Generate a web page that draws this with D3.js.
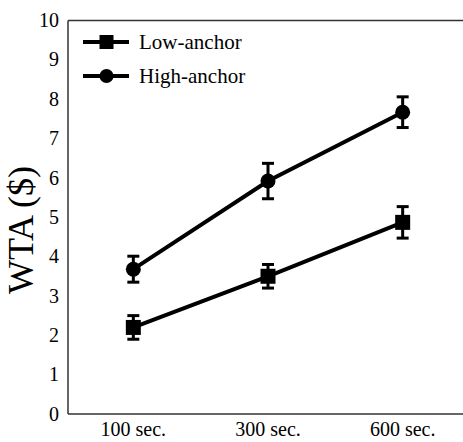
<!DOCTYPE html>
<html><head><meta charset="utf-8">
<script src="https://cdn.jsdelivr.net/npm/d3@7/dist/d3.min.js"></script>
<style>body{margin:0;background:#fff}</style>
</head><body>
<script>
const categories = ["100 sec.", "300 sec.", "600 sec."];
const lowValues = [2.2, 3.5, 4.87];
const lowErrors = [0.3, 0.3, 0.4];
const highValues = [3.68, 5.92, 7.67];
const highErrors = [0.33, 0.45, 0.39];
const yTicks = [0,1,2,3,4,5,6,7,8,9,10];
const seriesNames = ["Low-anchor", "High-anchor"];

const W = 463, H = 442;
const FONT = '"Liberation Serif"';
const svg = d3.select("body").append("svg").attr("width", W).attr("height", H);

const x = d3.scalePoint().domain(categories).range([66, 470]).padding(0.5);
const y = d3.scaleLinear().domain([0, 10]).range([414, 20.5]);

// frame
svg.append("line").attr("x1", 68).attr("x2", 68).attr("y1", 20.5).attr("y2", 414)
  .attr("stroke", "#333").attr("stroke-width", 1.5);
svg.append("line").attr("x1", 68).attr("x2", 463).attr("y1", 414).attr("y2", 414)
  .attr("stroke", "#333").attr("stroke-width", 1.5);
svg.append("line").attr("x1", 68).attr("x2", 463).attr("y1", 20.5).attr("y2", 20.5)
  .attr("stroke", "#333").attr("stroke-width", 1.5);

// y tick labels
svg.selectAll(".yt").data(yTicks).enter().append("text")
  .attr("x", 59).attr("y", d => y(d)).attr("dy", "0.33em")
  .attr("text-anchor", "end").style("font-family", FONT).style("font-size", "20px")
  .text(d => d);

// x tick labels
svg.selectAll(".xt").data(categories).enter().append("text")
  .attr("x", d => x(d)).attr("y", 436)
  .attr("text-anchor", "middle").style("font-family", FONT).style("font-size", "20px")
  .text(d => d);

// y title
svg.append("text").attr("transform", "translate(33,230) rotate(-90)")
  .attr("text-anchor", "middle").style("font-family", FONT).style("font-size", "36px")
  .text("WTA ($)");

const line = d3.line().x((d, i) => x(categories[i])).y(d => y(d));

function drawSeries(vals, errs, shape) {
  const g = svg.append("g");
  g.append("path").attr("d", line(vals)).attr("fill", "none")
    .attr("stroke", "#000").attr("stroke-width", 4);
  vals.forEach((v, i) => {
    const cx = x(categories[i]);
    const top = y(v + errs[i]), bot = y(v - errs[i]);
    g.append("line").attr("x1", cx).attr("x2", cx).attr("y1", top).attr("y2", bot)
      .attr("stroke", "#000").attr("stroke-width", 3);
    [top, bot].forEach(yy => g.append("line").attr("x1", cx - 6).attr("x2", cx + 6)
      .attr("y1", yy).attr("y2", yy).attr("stroke", "#000").attr("stroke-width", 3));
    if (shape === "square") {
      g.append("rect").attr("x", cx - 7.5).attr("y", y(v) - 7.5)
        .attr("width", 15).attr("height", 15).attr("fill", "#000");
    } else {
      g.append("circle").attr("cx", cx).attr("cy", y(v)).attr("r", 7.5).attr("fill", "#000");
    }
  });
}
drawSeries(lowValues, lowErrors, "square");
drawSeries(highValues, highErrors, "circle");

// legend
const leg = [{name: seriesNames[0], shape: "square", y: 42}, {name: seriesNames[1], shape: "circle", y: 76}];
leg.forEach(l => {
  svg.append("line").attr("x1", 83).attr("x2", 129).attr("y1", l.y).attr("y2", l.y)
    .attr("stroke", "#000").attr("stroke-width", 4);
  if (l.shape === "square") {
    svg.append("rect").attr("x", 99.5).attr("y", l.y - 7).attr("width", 14).attr("height", 14).attr("fill", "#000");
  } else {
    svg.append("circle").attr("cx", 106.5).attr("cy", l.y).attr("r", 7).attr("fill", "#000");
  }
  svg.append("text").attr("x", 139).attr("y", l.y + 7)
    .style("font-family", FONT).style("font-size", "21px").text(l.name);
});
</script>
</body></html>
